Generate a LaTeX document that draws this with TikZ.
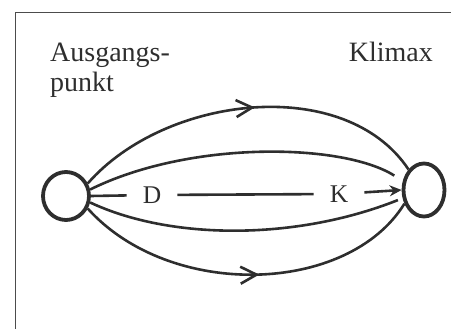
\documentclass[tikz,border=0pt]{standalone}
\usepackage{fontspec}
\setmainfont{Liberation Serif}
\usetikzlibrary{arrows.meta,shapes.geometric,decorations.markings}

\tikzset{
  ink/.style={draw=black!82, line width=2.6pt},
  state/.style={draw=black!82, line width=3.8pt, ellipse, inner sep=0pt},
  lbl/.style={font=\fontsize{28}{30}\selectfont, text=black!82, inner sep=0pt},
  mid/.style={font=\fontsize{25.5}{27}\selectfont, text=black!82, inner xsep=16pt, inner ysep=2pt},
  barb/.style={postaction={decorate}, decoration={markings,
    mark=at position #1 with {\arrow{Straight Barb[length=16pt,width=17pt,line width=2.6pt]}}}},
  frame/.style={draw=black!70, line width=1pt}
}

\begin{document}
\begin{tikzpicture}[x=1pt,y=-1pt]
\useasboundingbox (0,0) rectangle (451,329);

% open frame: left and top edges only
\coordinate (fb) at (15,329);
\coordinate (fc) at (15,13);
\coordinate (fr) at (451,13);
\draw[frame] (fb) -- (fc) -- (fr);

% labels
\node[lbl, anchor=base west] (aus) at (50,62) {Ausgangs-};
\node[lbl, anchor=base west] (punkt) at (50,92) {punkt};
\node[lbl, anchor=base east] (klimax) at (433,62) {Klimax};

% start and end states
\node[state, minimum width=46pt, minimum height=48pt] (A) at (66,196) {};
\node[state, minimum width=41pt, minimum height=53pt] (B) at (424,190) {};

% direct path through D and K
\node[mid] (D) at (152,195) {D};
\node[mid] (K) at (339,194) {K};
\draw[ink] (A.east) -- (D);
\draw[ink] (D) -- (K);
\draw[ink, -{Stealth[length=12pt,width=11pt]}] (K) -- (B.west);

% outer and inner detours
\draw[ink, barb=0.52] (A.30) .. controls (165,95) and (345,74) .. (B.127);
\draw[ink, shorten >=10pt] (A.15) .. controls (190,140) and (343,143) .. (B.157);
\draw[ink, shorten >=5pt] (A.-15) .. controls (170,240) and (295,241) .. (B.201);
\draw[ink, barb=0.53] (A.-30) .. controls (170,300) and (348,295) .. (B.215);
\end{tikzpicture}
\end{document}
